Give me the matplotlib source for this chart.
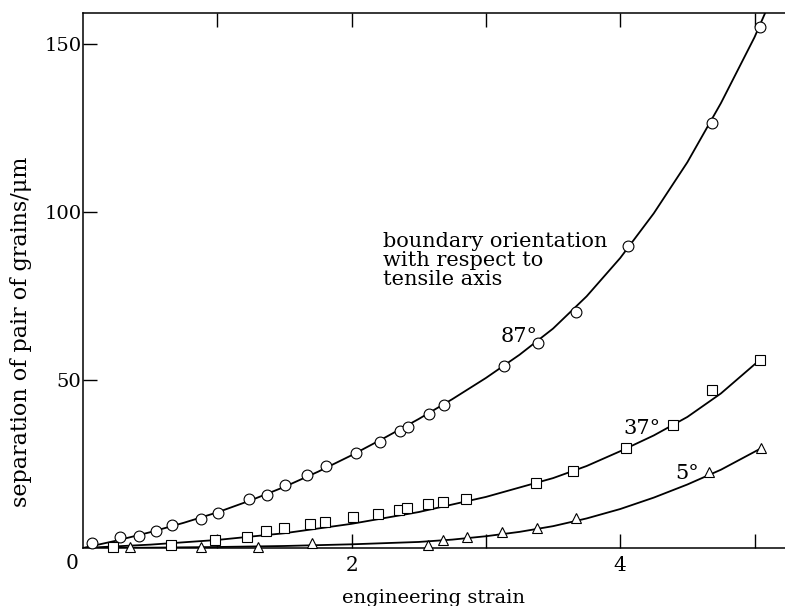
import matplotlib
matplotlib.use("Agg")
import matplotlib.pyplot as plt

plt.rcParams['font.family'] = ['DejaVu Serif']

# measured points (engineering strain, separation in um)
circ_x = [0.065, 0.275, 0.417, 0.54, 0.665, 0.876, 1.005, 1.236, 1.367, 1.504, 1.67, 1.807,
          2.03, 2.21, 2.36, 2.42, 2.58, 2.69, 3.137, 3.39, 3.67, 4.056, 4.68, 5.04]
circ_y = [1.4, 3.2, 3.6, 5.1, 6.8, 8.6, 10.5, 14.5, 15.8, 18.75, 21.7, 24.4,
          28.2, 31.4, 34.8, 36.1, 39.8, 42.7, 54.2, 61.1, 70.3, 90.0, 126.4, 155.1]

sq_x = [0.226, 0.655, 0.983, 1.219, 1.363, 1.50, 1.69, 1.80, 2.01, 2.20, 2.353, 2.415,
        2.566, 2.678, 2.85, 3.373, 3.65, 4.04, 4.395, 4.68, 5.04]
sq_y = [0.2, 0.9, 2.4, 3.3, 5.2, 6.1, 7.0, 7.8, 9.1, 10.1, 11.2, 11.9,
        13.2, 13.8, 14.6, 19.3, 22.9, 29.9, 36.6, 47.0, 56.0]

tri_x = [0.35, 0.876, 1.30, 1.707, 2.57, 2.68, 2.86, 3.12, 3.38, 3.67, 4.66, 5.05]
tri_y = [0.2, 0.2, 0.2, 1.5, 0.9, 2.4, 3.2, 4.9, 6.0, 8.8, 22.7, 29.7]

# fitted curves
c87_x = [0, 0.25, 0.5, 0.75, 1.0, 1.25, 1.5, 1.75, 2.0, 2.25, 2.5, 2.75, 3.0, 3.25,
         3.5, 3.75, 4.0, 4.25, 4.5, 4.75, 5.0, 5.08]
c87_y = [0, 2.2, 4.7, 7.5, 10.6, 14.2, 18.2, 22.7, 27.6, 32.9, 38.4, 44.3, 50.6, 57.5,
         65.3, 74.9, 86.3, 99.6, 114.8, 132.4, 152.0, 159.3]

c37_x = [0, 0.5, 1.0, 1.5, 2.0, 2.5, 3.0, 3.5, 3.75, 4.0, 4.25, 4.5, 4.75, 5.04]
c37_y = [0, 1.0, 2.4, 4.4, 7.2, 10.7, 15.2, 20.8, 24.4, 28.8, 33.5, 39.0, 46.0, 56.0]

c5_x = [0, 0.5, 1.0, 1.5, 2.0, 2.5, 2.75, 3.0, 3.25, 3.5, 3.75, 4.0, 4.25, 4.5, 4.75, 5.05]
c5_y = [0, 0.1, 0.3, 0.6, 1.1, 1.8, 2.5, 3.5, 4.8, 6.5, 8.8, 11.6, 15.0, 18.9, 23.3, 29.7]

fig = plt.figure(figsize=(7.85, 6.06), dpi=100)
ax = fig.add_axes([0.1057, 0.0957, 0.8943, 0.8833])

for cx, cy in [(c87_x, c87_y), (c37_x, c37_y), (c5_x, c5_y)]:
    ax.plot(cx, cy, color='black', lw=1.3, solid_joinstyle='round')

mk = dict(linestyle='none', markerfacecolor='white', markeredgecolor='black',
          markeredgewidth=0.8, clip_on=False, zorder=3)
ax.plot(circ_x, circ_y, marker='o', markersize=7.8, **mk)
ax.plot(sq_x, sq_y, marker='s', markersize=6.8, **mk)
ax.plot(tri_x, tri_y, marker='^', markersize=6.8, **mk)

ax.set_xlim(0, 5.227)
ax.set_ylim(0, 159.3)

ax.spines['right'].set_visible(False)
for s in ['left', 'bottom', 'top']:
    ax.spines[s].set_linewidth(1.1)

ax.set_xticks([1, 2, 3, 4, 5])
ax.set_xticklabels(['', '2', '', '4', ''])
ax.set_yticks([50, 100, 150])
ax.set_yticklabels(['50', '100', '150'])
ax.tick_params(axis='x', direction='in', length=10, width=1.0, top=True, labelsize=14.5, pad=6)
ax.tick_params(axis='y', direction='in', length=10, width=1.0, labelsize=14, pad=1)
ax.annotate('0', xy=(0, 0), xytext=(-7.5, -11), textcoords='offset points',
            ha='center', va='center', fontsize=14.5, annotation_clip=False)

ax.set_xlabel('engineering strain', fontsize=14, labelpad=10)
fig.text(0.027, 1 - 332 / 606, 'separation of pair of grains/μm', rotation=90,
         ha='center', va='center', fontsize=16)

ax.text(2.234, 94.0, 'boundary orientation\nwith respect to\ntensile axis',
        fontsize=15, ha='left', va='top', linespacing=1.0)
ax.text(3.25, 62.8, '87°', fontsize=15, ha='center', va='center')
ax.text(4.16, 35.7, '37°', fontsize=15, ha='center', va='center')
ax.text(4.50, 22.3, '5°', fontsize=15, ha='center', va='center')

fig.savefig('out.png', dpi=100)
